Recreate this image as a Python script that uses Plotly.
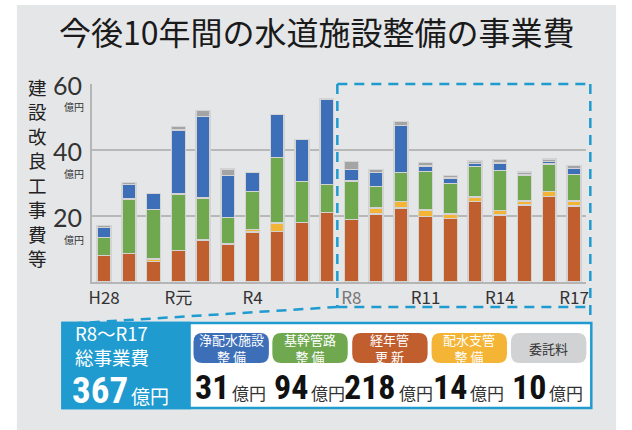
import plotly.graph_objects as go

W, H = 632, 430

# ---------------- data ----------------
years = ["H28", "H29", "H30", "R元", "R2", "R3", "R4", "R5", "R6", "R7",
         "R8", "R9", "R10", "R11", "R12", "R13", "R14", "R15", "R16", "R17"]
tick_years = ["H28", "R元", "R4", "R8", "R11", "R14", "R17"]

renewal = [8.0, 8.7, 6.2, 9.6, 12.7, 11.4, 15.1, 15.3, 18.0, 21.1,
           19.0, 20.6, 22.4, 19.9, 19.3, 24.4, 20.3, 23.3, 25.9, 23.1]      # 経年管更新
branch = [0, 0, 0.7, 0, 0, 0.3, 0.8, 2.6, 0, 0,
          0, 1.9, 2.0, 1.9, 1.3, 1.4, 1.3, 1.2, 1.5, 1.5]                    # 配水支管整備
trunk = [5.5, 16.4, 15.0, 17.0, 12.7, 7.9, 11.6, 19.8, 12.5, 8.4,
         11.6, 6.5, 8.8, 11.7, 9.3, 9.2, 12.2, 8.0, 8.3, 8.0]                # 基幹管路整備
facility = [3.0, 4.5, 4.9, 19.5, 24.7, 12.7, 5.7, 13.0, 12.7, 26.0,
            3.5, 4.2, 14.2, 1.7, 1.6, 0.9, 2.3, 0, 0.8, 1.8]                 # 浄配水施設整備
commission = [0.6, 0.6, 0, 1.0, 1.8, 1.9, 0, 0, 0, 0,
              2.4, 0.9, 1.2, 1.0, 0.7, 0.8, 1.0, 0.9, 0.8, 0.9]              # 委託料

y_ticks = [20, 40, 60]

summary_names = [["浄配水施設", "整 備"], ["基幹管路", "整 備"], ["経年管", "更 新"],
                 ["配水支管", "整 備"], ["委託料"]]
summary_values = [31, 94, 218, 14, 10]
total_value = 367
total_label = ["R8〜R17", "総事業費"]
unit = "億円"
title_text = "今後10年間の水道施設整備の事業費"
ytitle = "建設改良工事費等"

# ---------------- styles ----------------
C_BLUE = "#3d6fb8"
C_GREEN = "#6fa84f"
C_ORANGE = "#c05e2d"
C_YELLOW = "#f4b435"
C_GRAY = "#a4a4a4"
C_PILLGRAY = "#d1d2d4"
C_CYAN = "#1f9bd0"
BG = "#e5e6e8"
JP = "Noto Sans CJK JP"
NUM = "Liberation Sans Narrow, Roboto Condensed, Roboto, Noto Sans CJK JP"
DIGIT_EM = 0.48


def X(px):
    return px / W


def Y(py):
    return 1 - py / H


def nz(vals):
    return [v if v else None for v in vals]


def stacked(lines, size):
    return "<br>".join(f"<span style='font-size:{size}px'>{t}</span>" for t in lines)


fig = go.Figure()
series = [
    ("経年管更新", renewal, C_ORANGE),
    ("配水支管整備", branch, C_YELLOW),
    ("基幹管路整備", trunk, C_GREEN),
    ("浄配水施設整備", facility, C_BLUE),
    ("委託料", commission, C_GRAY),
]
for name, vals, col in series:
    fig.add_trace(go.Bar(
        x=years, y=nz(vals), name=name, width=0.56,
        marker=dict(color=col, line=dict(color="#d3d3d3", width=1.5)),
        hoverinfo="x+y+name",
    ))

shapes = []
annotations = []

# gray background panel
shapes.append(dict(type="rect", xref="paper", yref="paper", layer="below",
                   x0=X(14), x1=X(618), y0=Y(430), y1=Y(5),
                   fillcolor=BG, line=dict(width=0)))

# dashed highlight box + connectors
dash = dict(color=C_CYAN, width=2.5, dash="10px,7px")
for (a, b, c, d) in [(337, 84, 592, 84), (337, 84, 337, 307), (337, 307, 592, 307),
                     (592, 84, 592, 323), (337, 307, 62, 324)]:
    shapes.append(dict(type="line", xref="paper", yref="paper",
                       x0=X(a), y0=Y(b), x1=X(c), y1=Y(d), line=dash))

# summary panel
shapes.append(dict(type="rect", xref="paper", yref="paper",
                   x0=X(60), x1=X(593), y0=Y(408), y1=Y(323),
                   fillcolor="white", line=dict(color=C_CYAN, width=2.5)))
shapes.append(dict(type="rect", xref="paper", yref="paper",
                   x0=X(60), x1=X(188), y0=Y(408), y1=Y(323),
                   fillcolor=C_CYAN, line=dict(color=C_CYAN, width=2.5)))


def rounded(x0, y0, x1, y1, r):
    p = (f"M {X(x0 + r)},{Y(y0)} L {X(x1 - r)},{Y(y0)} Q {X(x1)},{Y(y0)} {X(x1)},{Y(y0 + r)} "
         f"L {X(x1)},{Y(y1 - r)} Q {X(x1)},{Y(y1)} {X(x1 - r)},{Y(y1)} "
         f"L {X(x0 + r)},{Y(y1)} Q {X(x0)},{Y(y1)} {X(x0)},{Y(y1 - r)} "
         f"L {X(x0)},{Y(y0 + r)} Q {X(x0)},{Y(y0)} {X(x0 + r)},{Y(y0)} Z")
    return p


def number_with_unit(x_left, digits_text, size, col, ucol, usize, cy=387):
    nx_right = x_left + DIGIT_EM * size * len(digits_text)
    annotations.append(dict(xref="paper", yref="paper", x=X(nx_right), y=Y(cy),
                            text=f"<b>{digits_text}</b>", showarrow=False, borderpad=0,
                            font=dict(family=NUM, size=size, color=col),
                            xanchor="right", yanchor="middle"))
    annotations.append(dict(xref="paper", yref="paper", x=X(nx_right + 1), y=Y(cy + 5),
                            text=unit, showarrow=False, borderpad=0,
                            font=dict(family=JP, size=usize, color=ucol),
                            xanchor="left", yanchor="middle"))


pill_cols = [C_BLUE, C_GREEN, C_ORANGE, C_YELLOW, C_PILLGRAY]
pill_cx = [230, 309.5, 390, 470, 550]
NUM_SIZE, UNIT_SIZE = 34, 17
for name, val, col, cx in zip(summary_names, summary_values, pill_cols, pill_cx):
    shapes.append(dict(type="path", xref="paper", yref="paper",
                       path=rounded(cx - 38, 333, cx + 38, 363, 9),
                       fillcolor=col, line=dict(width=0)))
    tcol = "#333333" if col == C_PILLGRAY else "white"
    annotations.append(dict(xref="paper", yref="paper", x=X(cx), y=Y(348),
                            text=stacked(name, 13), showarrow=False, borderpad=0,
                            font=dict(family=JP, size=13.4, color=tcol),
                            xanchor="center", yanchor="middle"))
    s = str(val)
    total_w = DIGIT_EM * NUM_SIZE * len(s) + 1 + 2 * UNIT_SIZE
    number_with_unit(cx - total_w / 2, s, NUM_SIZE, "#111111", "#333333", UNIT_SIZE)

# left block text (two lines)
annotations.append(dict(xref="paper", yref="paper", x=X(72), y=Y(344.5),
                        text=stacked(total_label, 18.5), borderpad=0,
                        showarrow=False, font=dict(family=JP, size=18.8, color="white"),
                        xanchor="left", yanchor="middle", align="left"))
number_with_unit(74, str(total_value), 37, "white", "white", 19, cy=390)

# title
annotations.append(dict(xref="paper", yref="paper", x=X(316), y=Y(31), text=title_text,
                        showarrow=False, font=dict(family=JP, size=32, color="#1a1a1a"),
                        xanchor="center", yanchor="middle"))

# vertical y title (one character per line)
annotations.append(dict(xref="paper", yref="paper", x=X(35), y=Y(172),
                        text=stacked(list(ytitle), 18.5), borderpad=0,
                        showarrow=False, font=dict(family=JP, size=18.8, color="#222222"),
                        xanchor="center", yanchor="middle"))

# y tick labels (number with unit below)
for v in y_ticks:
    annotations.append(dict(xref="paper", yref="y", x=X(65), y=v, text=str(v),
                            showarrow=False, borderpad=0,
                            font=dict(family="Lato, Noto Sans, sans-serif", size=25, color="#333333"),
                            xanchor="center", yanchor="middle", yshift=-1))
    annotations.append(dict(xref="paper", yref="y", x=X(72), y=v, text=unit,
                            showarrow=False, borderpad=0,
                            font=dict(family=JP, size=10, color="#333333"),
                            xanchor="center", yanchor="middle", yshift=-23))

ticktext = [f"<span style='color:#777777'>{t}</span>" if t == "R8" else t for t in tick_years]

fig.update_layout(
    width=W, height=H, margin=dict(l=0, r=0, t=0, b=0),
    paper_bgcolor="white", plot_bgcolor="rgba(0,0,0,0)",
    barmode="stack", bargap=0.45, showlegend=False,
    shapes=shapes, annotations=annotations,
    xaxis=dict(domain=[X(89.5), X(588)], range=[-0.5, 19.5], type="category",
               tickmode="array", tickvals=tick_years, ticktext=ticktext,
               tickfont=dict(family=JP, size=17, color="#333333"),
               showline=True, linecolor="#b5b5b5", linewidth=2, ticks="",
               showgrid=False, fixedrange=True),
    yaxis=dict(domain=[Y(282), Y(84)], range=[0, 60], tickvals=y_ticks,
               showticklabels=False, showgrid=True, gridcolor="#b8b8b8", gridwidth=1.5,
               showline=True, linecolor="#b5b5b5", linewidth=2, zeroline=False,
               ticks="", fixedrange=True),
)

fig.write_html("out.html", config={"displayModeBar": False},
               post_script="document.body.style.margin='0px';document.body.style.overflow='hidden';")
